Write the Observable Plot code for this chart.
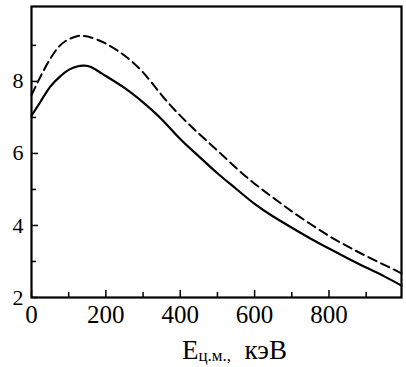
<!DOCTYPE html>
<html><head><meta charset="utf-8">
<script src="https://cdn.jsdelivr.net/npm/d3@7"></script>
<script src="https://cdn.jsdelivr.net/npm/@observablehq/plot@0.6"></script>
<style>body{margin:0;background:#fff}</style>
</head><body><div id="chart"></div>
<script>
const energy      = [0, 25, 50, 75, 100, 125, 140, 160, 200, 250, 300, 350, 400, 450, 500, 550, 600, 650, 700, 750, 800, 850, 900, 950, 995];
const solidCurve  = [7.05, 7.45, 7.85, 8.12, 8.32, 8.42, 8.44, 8.40, 8.15, 7.82, 7.42, 6.95, 6.40, 5.92, 5.45, 5.02, 4.60, 4.25, 3.94, 3.64, 3.36, 3.09, 2.83, 2.58, 2.33];
const dashedCurve = [7.62, 8.15, 8.62, 8.98, 9.17, 9.26, 9.26, 9.22, 9.05, 8.72, 8.25, 7.62, 7.05, 6.55, 6.08, 5.60, 5.16, 4.77, 4.39, 4.04, 3.71, 3.42, 3.15, 2.90, 2.67];
const xMajorTicks = [0, 200, 400, 600, 800];
const xMinorTicks = [100, 300, 500, 700, 900];
const yMajorTicks = [2, 4, 6, 8];
const yMinorTicks = [3, 5, 7, 9];
const labelMain = "E";
const labelSub = "ц.м.,";
const labelUnit = "кэВ";

const rows = energy.map((e, i) => ({e, solid: solidCurve[i], dashed: dashedCurve[i]}));

const W = 406, H = 367, mL = 31, mR = 5, mT = 6, mB = 70;
const fw = W - mL - mR, fh = H - mT - mB;

const svg = Plot.plot({
  width: W, height: H,
  marginLeft: mL, marginRight: mR, marginTop: mT, marginBottom: mB,
  style: {fontFamily: "'Liberation Serif', 'Times New Roman', serif", background: "#fff", color: "#000"},
  x: {domain: [0, 995]},
  y: {domain: [2, 10.08]},
  marks: [
    Plot.line(rows, {x: "e", y: "solid", stroke: "#000", strokeWidth: 2.2, curve: "natural"}),
    Plot.line(rows, {x: "e", y: "dashed", stroke: "#000", strokeWidth: 2, strokeDasharray: "9,5", curve: "natural"}),
    Plot.tickX(xMajorTicks, {x: d => d, insetTop: fh - 7, stroke: "#000", strokeWidth: 1.5}),
    Plot.tickX(xMinorTicks, {x: d => d, insetTop: fh - 5, stroke: "#000", strokeWidth: 1.5}),
    Plot.tickY(yMajorTicks, {y: d => d, insetRight: fw - 7, stroke: "#000", strokeWidth: 1.5}),
    Plot.tickY(yMinorTicks, {y: d => d, insetRight: fw - 5, stroke: "#000", strokeWidth: 1.5}),
    Plot.frame({stroke: "#000", strokeWidth: 2.2}),
    Plot.axisX({ticks: xMajorTicks, tickSize: 0, tickPadding: 8, fontSize: 25, label: null}),
    Plot.axisY({ticks: yMajorTicks, tickSize: 0, tickPadding: 8, fontSize: 22, label: null})
  ]
});

const t = d3.select(svg).append("text")
  .attr("x", 182).attr("y", 359)
  .attr("text-anchor", "start")
  .attr("font-family", "'Liberation Serif', 'Times New Roman', serif")
  .attr("font-size", 27).attr("fill", "#000");
t.append("tspan").text(labelMain);
t.append("tspan").attr("font-size", 17).attr("dy", 2).text(labelSub);
t.append("tspan").attr("dy", -2).text("\u00a0\u00a0" + labelUnit);

document.getElementById("chart").appendChild(svg);
</script>
</body></html>
